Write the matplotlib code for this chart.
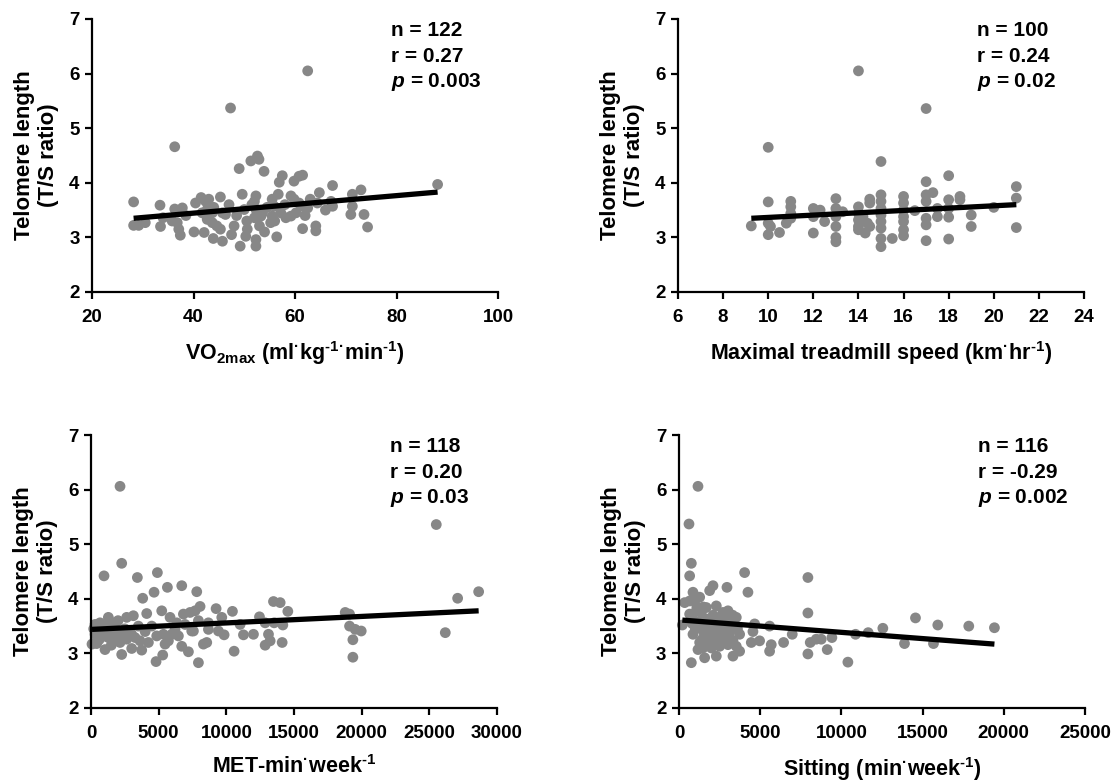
import matplotlib
matplotlib.use('Agg')
import matplotlib.pyplot as plt

plt.rcParams['font.family'] = ['Liberation Sans', 'DejaVu Sans']
plt.rcParams['font.weight'] = 'bold'
plt.rcParams['mathtext.fontset'] = 'custom'
plt.rcParams['mathtext.rm'] = 'Liberation Sans:bold'
plt.rcParams['mathtext.bf'] = 'Liberation Sans:bold'
plt.rcParams['mathtext.it'] = 'Liberation Sans:italic:bold'
plt.rcParams['mathtext.default'] = 'bf'

# --- VO2max panel ---
vo2_x = [28.2, 28.2, 29.2, 30.5, 33.4, 33.5, 34.0, 36.3, 36.3, 37.8, 35.8, 36.8, 37.1, 37.4,
         40.1, 40.4, 41.5, 42.4, 43.0, 41.7, 42.7, 43.7, 42.1, 43.9, 42.7, 43.7, 45.3, 45.7,
         46.3, 45.7, 45.3, 44.6, 47.3, 49.0, 48.0, 49.2, 49.6, 50.0, 50.3, 50.6, 51.3, 52.6,
         52.9, 53.9, 52.3, 52.0, 52.3, 52.0, 53.0, 52.3, 52.3, 53.3, 53.6, 55.5, 55.9, 55.5,
         55.2, 56.4, 56.7, 56.9, 57.5, 57.2, 58.2, 59.2, 59.8, 59.8, 60.8, 61.5, 59.2, 60.2,
         60.8, 61.2, 61.5, 62.5, 62.5, 64.4, 64.8, 64.1, 64.1, 67.1, 67.4, 67.4, 71.0, 71.3,
         73.0, 71.3, 73.6, 74.3, 88.1, 38.5, 44.0, 47.0, 48.5, 50.5, 51.5, 54.5, 56.0, 58.0,
         62.0, 63.0, 66.0, 47.5, 54.0]
vo2_tl = [3.65, 3.22, 3.22, 3.27, 3.59, 3.20, 3.36, 4.66, 3.52, 3.54, 3.30, 3.27, 3.15, 3.04,
          3.10, 3.63, 3.73, 3.66, 3.70, 3.45, 3.51, 3.45, 3.09, 2.98, 3.33, 3.27, 3.74, 3.45,
          3.42, 2.93, 3.15, 3.21, 5.37, 4.26, 3.21, 2.84, 3.79, 3.51, 3.02, 3.15, 4.40, 4.49,
          4.43, 4.21, 3.76, 3.66, 3.51, 3.36, 3.21, 2.96, 2.84, 3.39, 3.45, 3.70, 3.57, 3.39,
          3.27, 3.01, 3.79, 4.01, 4.13, 3.45, 3.36, 3.76, 3.70, 4.03, 4.12, 4.14, 3.39, 3.45,
          3.63, 3.57, 3.16, 6.05, 3.54, 3.63, 3.82, 3.21, 3.12, 3.66, 3.57, 3.95, 3.42, 3.79,
          3.87, 3.57, 3.42, 3.19, 3.97, 3.40, 3.55, 3.60, 3.40, 3.30, 3.60, 3.55, 3.30, 3.60,
          3.40, 3.70, 3.50, 3.05, 3.10]
vo2_fit = [3.35, 3.83]

# --- treadmill speed panel ---
speed_x = [9.25, 10, 10, 10, 10.1, 10, 10.5, 10.8, 11, 11, 11, 11, 12, 12, 12, 12.3, 12.5,
           13, 13, 13, 13, 13, 13, 13.3, 14, 14, 14, 14, 14, 14, 14.2, 14.3, 14.4, 14.5, 14.5,
           14.5, 15, 15, 15, 15, 15, 15, 15, 15, 15, 15.5, 16, 16, 16, 16, 16, 16, 16, 16.5,
           17, 17, 17, 17, 17.3, 17, 17, 17, 17.5, 17.5, 18, 18, 18, 18, 18, 18.5, 18.5, 19, 19,
           20, 21, 21, 21]
speed_tl = [3.21, 4.65, 3.65, 3.26, 3.20, 3.05, 3.09, 3.26, 3.66, 3.56, 3.44, 3.35, 3.53, 3.38,
            3.08, 3.50, 3.29, 3.71, 3.53, 3.38, 3.20, 3.00, 2.92, 3.47, 6.05, 3.56, 3.44, 3.32,
            3.20, 3.14, 3.38, 3.08, 3.26, 3.20, 3.70, 3.63, 4.39, 3.78, 3.66, 3.53, 3.41, 3.29,
            3.17, 2.98, 2.83, 2.98, 3.75, 3.63, 3.50, 3.38, 3.29, 3.14, 3.03, 3.49, 5.36, 4.02,
            3.78, 3.66, 3.82, 3.35, 3.23, 2.94, 3.53, 3.38, 4.13, 3.69, 3.53, 3.37, 2.97, 3.75,
            3.69, 3.41, 3.20, 3.55, 3.93, 3.72, 3.18]
speed_fit = [3.35, 3.60]

# --- MET panel ---
met_x = [2145, 2268, 961, 3426, 4905, 3820, 4659, 5645, 6705, 7814, 5226, 4117, 2637, 3130,
         1282, 296, 666, 1652, 74, 419, 1035, 1528, 2145, 2637, 3007, 3747, 4240, 789, 1405,
         1898, 2391, 3254, 3623, 2268, 4486, 4856, 5349, 5719, 5473, 4807, 5300, 5842, 6335,
         6212, 6458, 5965, 6828, 7321, 6951, 7444, 6705, 7198, 7937, 8060, 7691, 7937, 7567,
         8307, 8553, 8676, 8676, 9244, 9663, 9416, 9835, 10451, 10574, 11018, 11265, 12004,
         12449, 12868, 13114, 13237, 12868, 13484, 13977, 13533, 14174, 14544, 14125, 18784,
         19104, 19104, 19523, 19967, 19350, 19350, 25513, 26179, 27091, 28644,
         300, 600, 1200, 1800, 2500, 3000, 1000, 2000, 3500, 4000, 200, 1500]
met_tl = [6.06, 4.65, 4.42, 4.39, 4.48, 4.01, 4.12, 4.21, 4.24, 4.13, 3.78, 3.73, 3.66, 3.69,
          3.66, 3.53, 3.56, 3.56, 3.17, 3.18, 3.07, 3.23, 3.20, 3.26, 3.09, 3.06, 3.20, 3.35,
          3.41, 3.29, 3.35, 3.29, 3.23, 2.98, 3.50, 3.32, 3.35, 3.23, 3.17, 2.85, 2.97, 3.66,
          3.56, 3.44, 3.32, 3.35, 3.72, 3.75, 3.53, 3.41, 3.13, 3.03, 2.83, 3.86, 3.78, 3.60,
          3.41, 3.17, 3.20, 3.56, 3.44, 3.82, 3.66, 3.41, 3.34, 3.77, 3.04, 3.53, 3.34, 3.35,
          3.67, 3.56, 3.35, 3.23, 3.15, 3.95, 3.93, 3.56, 3.52, 3.77, 3.20, 3.75, 3.72, 3.50,
          3.44, 3.41, 3.25, 2.93, 5.36, 3.38, 4.01, 4.13,
          3.35, 3.25, 3.30, 3.45, 3.45, 3.35, 3.50, 3.60, 3.50, 3.40, 3.45, 3.15]
met_fit = [3.44, 3.78]

# --- sitting panel ---
sit_x = [205, 349, 656, 615, 759, 656, 759, 861, 1272, 964, 1169, 1887, 2092, 2953, 4040, 4245,
         656, 1067, 1374, 1682, 2297, 3015, 3528, 861, 1169, 1579, 1990, 2502, 2912, 3220, 2605,
         1272, 1682, 2092, 2400, 2810, 3118, 3323, 3733, 1169, 1477, 1990, 2502, 3015, 3528,
         3733, 1579, 2297, 3323, 1887, 2195, 2502, 2810, 2297, 1682, 1374, 964, 4656, 4553,
         4451, 4963, 5579, 5681, 5579, 6440, 6973, 7937, 7937, 7937, 8081, 8450, 8758, 9127,
         9414, 10399, 10871, 11650, 12552, 13885, 14562, 15669, 15936, 17843, 19423,
         1000, 1300, 1500, 1800, 2000, 2200, 2400, 2700, 2900, 3100, 1400, 1900, 2600, 2100,
         2700, 1500, 3300, 800, 1100, 3600]
sit_tl = [3.52, 3.93, 3.96, 5.37, 4.65, 4.42, 2.83, 4.12, 4.03, 3.96, 6.06, 4.15, 4.24, 4.21,
          4.48, 4.12, 3.72, 3.78, 3.75, 3.84, 3.87, 3.78, 3.66, 3.35, 3.47, 3.53, 3.60, 3.66,
          3.60, 3.53, 3.47, 3.20, 3.29, 3.35, 3.23, 3.32, 3.38, 3.23, 3.35, 3.07, 3.10, 3.10,
          3.13, 3.16, 3.13, 3.04, 2.92, 2.95, 2.95, 3.47, 3.44, 3.53, 3.50, 3.63, 3.63, 3.60,
          3.60, 3.54, 3.40, 3.20, 3.23, 3.50, 3.16, 3.04, 3.20, 3.35, 4.39, 3.74, 2.99, 3.20,
          3.26, 3.26, 3.07, 3.29, 2.84, 3.35, 3.38, 3.46, 3.18, 3.65, 3.18, 3.52, 3.50, 3.47,
          3.45, 3.55, 3.40, 3.45, 3.30, 3.55, 3.40, 3.55, 3.45, 3.30, 3.25, 3.20, 3.25, 3.70,
          3.75, 3.85, 3.70, 3.55, 3.85, 3.45]
sit_fit = [3.61, 3.17]

panels = [
    (vo2_x, vo2_tl, vo2_fit, (20, 100, 20),
     'VO$_{2max}$ (ml$^{\u00b7}$kg$^{\u20101}$$^{\u00b7}$min$^{\u20101}$)',
     ['n = 122', 'r = 0.27', r'$\mathit{p}$ = 0.003']),
    (speed_x, speed_tl, speed_fit, (6, 24, 2),
     'Maximal treadmill speed (km$^{\u00b7}$hr$^{\u20101}$)',
     ['n = 100', 'r = 0.24', r'$\mathit{p}$ = 0.02']),
    (met_x, met_tl, met_fit, (0, 30000, 5000),
     'MET-min$^{\u00b7}$week$^{\u20101}$',
     ['n = 118', 'r = 0.20', r'$\mathit{p}$ = 0.03']),
    (sit_x, sit_tl, sit_fit, (0, 25000, 5000),
     'Sitting (min$^{\u00b7}$week$^{\u20101}$)',
     ['n = 116', 'r = -0.29', r'$\mathit{p}$ = 0.002']),
]

fig = plt.figure(figsize=(11.19, 7.83), dpi=100)
W, H = 1119, 783
rects = [(92, 19), (678, 19), (91, 435), (679, 435)]

for (x, y, fit, (lo, hi, step), xlab, stats), (l, t) in zip(panels, rects):
    ax = fig.add_axes([l / W, 1 - (t + 273) / H, 406 / W, 273 / H])
    ax.scatter(x, y, s=60, color='#878787', edgecolors='none', zorder=2, clip_on=False)
    ax.plot([min(x), max(x)], fit, color='black', lw=3.8, zorder=3, solid_capstyle='butt')
    ax.set_xlim(lo, hi)
    ax.set_ylim(2, 7)
    ax.set_xticks(range(lo, hi + 1, step))
    ax.set_yticks(range(2, 8))
    for s in ['top', 'right']:
        ax.spines[s].set_visible(False)
    for s in ['left', 'bottom']:
        ax.spines[s].set_linewidth(1.6)
    ax.tick_params(direction='out', length=5, width=1.6, labelsize=13.5, pad=4)
    ax.tick_params(axis='x', pad=7)
    for lab in ax.get_xticklabels() + ax.get_yticklabels():
        lab.set_fontweight('bold')
    ax.set_xlabel(xlab, fontsize=15.5, fontweight='bold', labelpad=10)
    ax.set_ylabel('Telomere length\n(T/S ratio)', fontsize=16, fontweight='bold', labelpad=7)
    for k, txt in enumerate(stats):
        ax.text(0.737, 0.957 - 0.093 * k, txt, transform=ax.transAxes, ha='left',
                va='center', fontsize=15, fontweight='bold')

fig.savefig('out.png', dpi=100, facecolor='white')
